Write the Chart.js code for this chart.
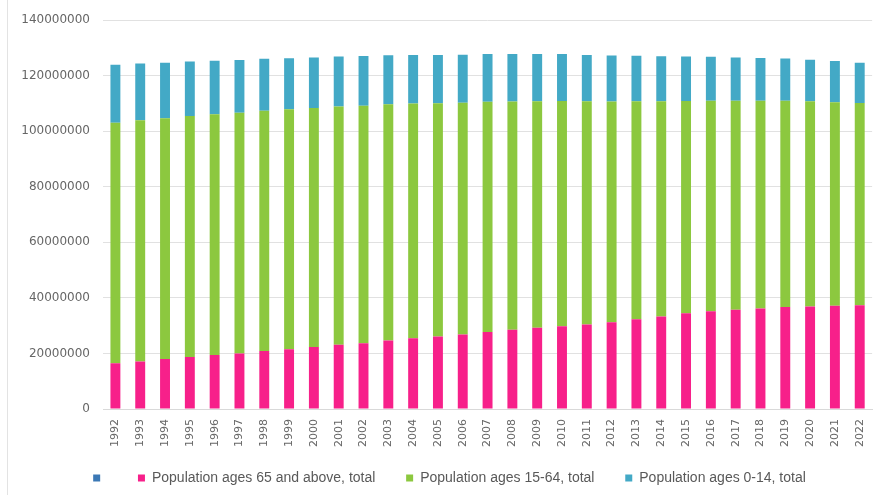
<!DOCTYPE html>
<html>
<head>
<meta charset="utf-8">
<script src="https://cdn.jsdelivr.net/npm/chart.js@4.4.0/dist/chart.umd.min.js"></script>
<style>
  html, body { margin: 0; padding: 0; background: #ffffff; }
  #wrap { position: relative; width: 883px; height: 495px; }
  #edge { position: absolute; left: 7px; top: 0; width: 1px; height: 495px; background: #e3e3e3; }
  canvas { position: absolute; left: 0; top: 0; }
</style>
</head>
<body>
<div id="wrap">
  <div id="edge"></div>
  <canvas id="c" width="883" height="495"></canvas>
</div>
<script>
const years = ['1992','1993','1994','1995','1996','1997','1998','1999','2000','2001','2002','2003','2004','2005','2006','2007','2008','2009','2010','2011','2012','2013','2014','2015','2016','2017','2018','2019','2020','2021','2022'];

const ages65plus = [16500000,17100000,18000000,18700000,19400000,20000000,20900000,21500000,22300000,23100000,23700000,24700000,25500000,26100000,26800000,27700000,28500000,29300000,29800000,30400000,31200000,32300000,33300000,34500000,35200000,35700000,36200000,36700000,36900000,37200000,37400000];

const ages15to64 = [86600000,86900000,86700000,86800000,86700000,86700000,86500000,86400000,86100000,85800000,85500000,85000000,84500000,84000000,83500000,82900000,82200000,81500000,81100000,80400000,79500000,78500000,77500000,76400000,75800000,75300000,74800000,74300000,73900000,73300000,72800000];

const ages0to14 = [20900000,20400000,20000000,19600000,19300000,19000000,18700000,18400000,18200000,18000000,17900000,17700000,17500000,17400000,17300000,17200000,17100000,17000000,16900000,16700000,16600000,16400000,16200000,16000000,15800000,15600000,15400000,15200000,15000000,14800000,14500000];

const seriesLabels = ['', 'Population ages 65 and above, total', 'Population ages 15-64, total', 'Population ages 0-14, total'];
const yTicks = [0, 20000000, 40000000, 60000000, 80000000, 100000000, 120000000, 140000000];

// legend spacing: a little trailing room after each entry except the last
const legendText = (s, i, n) => (i < n - 1 ? s + '\u00a0\u00a0' : s);

const ctx = document.getElementById('c');
new Chart(ctx, {
  type: 'bar',
  data: {
    labels: years,
    datasets: [
      { label: seriesLabels[0], data: [], backgroundColor: '#3b78b5' },
      { label: seriesLabels[1], data: ages65plus, backgroundColor: '#f7208a' },
      { label: seriesLabels[2], data: ages15to64, backgroundColor: '#8cc83f' },
      { label: seriesLabels[3], data: ages0to14, backgroundColor: '#43a9c6' }
    ]
  },
  options: {
    responsive: false,
    animation: false,
    layout: { padding: { left: 21, right: 5, top: 17, bottom: 0 } },
    datasets: { bar: { barPercentage: 0.4, categoryPercentage: 1.0 } },
    plugins: {
      tooltip: { enabled: false },
      legend: {
        position: 'bottom',
        align: 'center',
        labels: {
          boxWidth: 7,
          boxHeight: 7,
          padding: 23,
          color: '#595959',
          font: { family: '"Liberation Sans", Arial, sans-serif', size: 14 },
          generateLabels: (chart) => {
            const items = Chart.defaults.plugins.legend.labels.generateLabels(chart);
            return items.map((it, i) => Object.assign(it, { text: legendText(it.text, i, items.length) }));
          }
        }
      }
    },
    scales: {
      x: {
        stacked: true,
        afterFit: (axis) => { axis.height = 39; },
        grid: { display: false, drawTicks: false },
        border: { display: true, color: '#d9d9d9', width: 1 },
        ticks: {
          color: '#666666',
          minRotation: 90,
          maxRotation: 90,
          padding: 10,
          font: { family: '"DejaVu Sans", sans-serif', size: 11 }
        }
      },
      y: {
        stacked: true,
        min: 0,
        max: 140000000,
        afterBuildTicks: (axis) => { axis.ticks = yTicks.map(v => ({ value: v })); },
        afterFit: (axis) => { axis.width = 82; },
        grid: { color: '#e1e1e1', drawTicks: false, lineWidth: 1 },
        border: { display: false },
        ticks: {
          color: '#666666',
          padding: 13,
          callback: (v) => String(v),
          font: { family: '"DejaVu Sans", sans-serif', size: 12 }
        }
      }
    }
  }
});
</script>
</body>
</html>
